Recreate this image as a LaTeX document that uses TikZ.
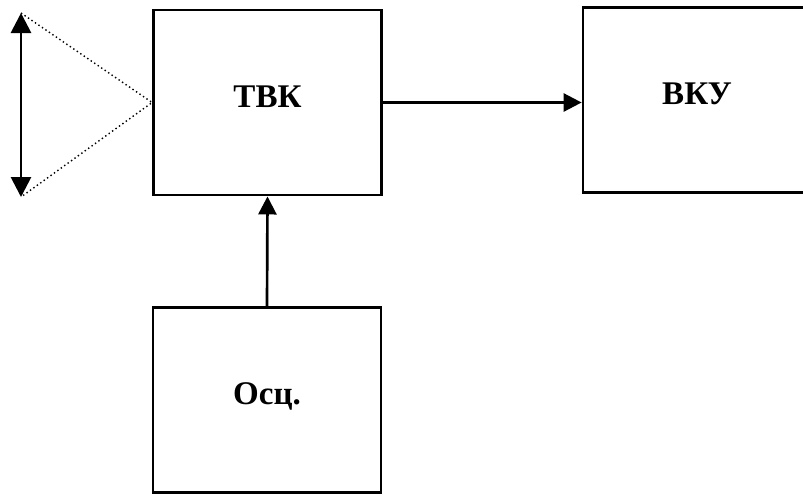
\documentclass[tikz,border=0pt]{standalone}
\usepackage{fontspec}
\setmainfont{Liberation Serif}
\usepackage{tikz}
\usetikzlibrary{arrows.meta,positioning}

\begin{document}
\begin{tikzpicture}[
  x=0.025cm, y=-0.025cm,
  blok/.style={draw=black, line width=1.9pt, minimum width=5.7cm,
               minimum height=4.63cm, inner sep=0pt, text depth=0.3cm,
               font=\fontsize{23.5}{26}\selectfont\bfseries},
  arr/.style={-{Triangle[length=0.45cm,width=0.45cm]}, line width=1.9pt},
  lens/.style={{Triangle[length=0.5cm,width=0.5cm]}-{Triangle[length=0.5cm,width=0.5cm]},
               line width=2pt},
  ray/.style={dotted, line width=1pt},
]
  \useasboundingbox (0,0) rectangle (803,495);
  %% blocks
  \node[blok] (tvk) at (267.5,102.5) {ТВК};
  \node[blok, minimum width=5.7cm] (vku) at (697,100) {ВКУ};
  \node[blok] (osc) at (267,400) {Осц.};
  %% lens
  \coordinate (ltop) at (21,13);
  \coordinate (lbot) at (21,197);
  \draw[lens] (ltop) -- (lbot);
  \draw[ray] (ltop) -- (tvk.west) -- (lbot);
  %% links
  \draw[arr] (tvk.east) -- (tvk.east -| vku.west);
  \draw[arr] (osc.north) -- (tvk.south);
\end{tikzpicture}
\end{document}
